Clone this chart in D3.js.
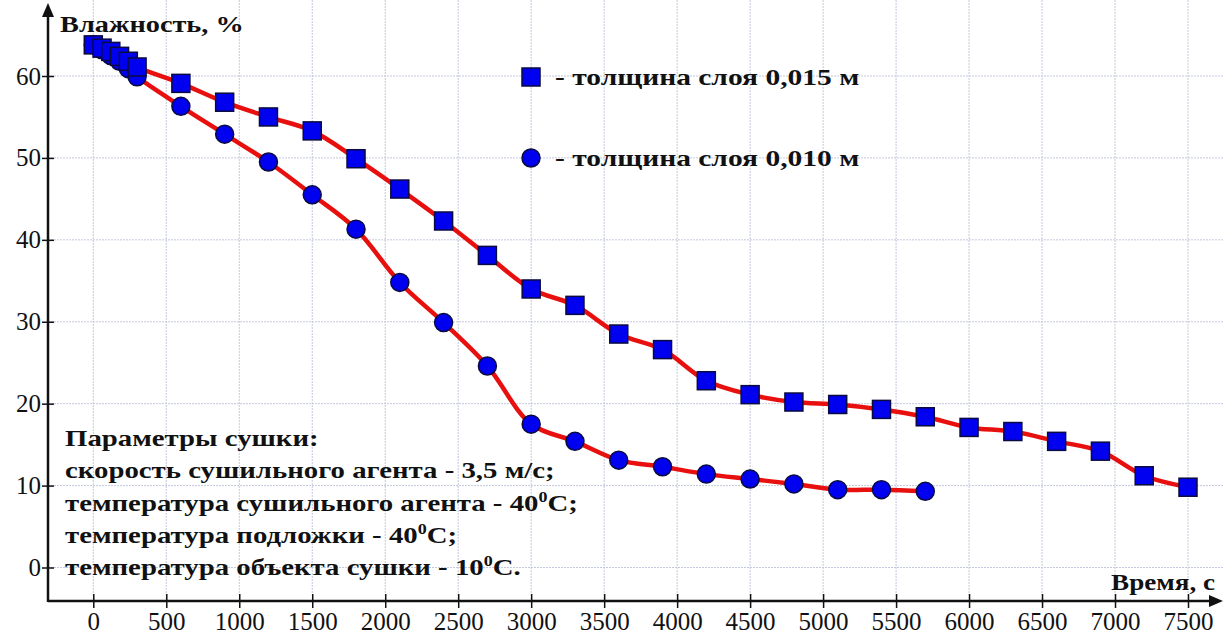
<!DOCTYPE html>
<html>
<head>
<meta charset="utf-8">
<script src="https://cdn.jsdelivr.net/npm/d3@7"></script>
<style>
  body { margin: 0; background: #fff; }
  svg { display: block; }
  .tick text { font-family: "Liberation Serif", "DejaVu Serif", serif; font-size: 25px; fill: #111; }
  .label { font-family: "Liberation Serif", "DejaVu Serif", serif; font-weight: bold; font-size: 24px; fill: #111; }
  .grid line { stroke: #c3c8dc; stroke-width: 1; stroke-dasharray: 2,1; }
</style>
</head>
<body>
<div class="graph-container"></div>
<script>
// Time, s
const timeThick = [0, 60, 120, 180, 240, 300, 600, 900, 1200, 1500, 1800, 2100, 2400, 2700,
                   3000, 3300, 3600, 3900, 4200, 4500, 4800, 5100, 5400, 5700, 6000, 6300,
                   6600, 6900, 7200, 7500];
// Moisture, % - layer 0,015 m
const moistThick = [63.8, 63.4, 63.0, 62.4, 61.8, 61.1, 59.1, 56.8, 55.0, 53.3, 49.9, 46.2,
                    42.3, 38.1, 34.0, 32.0, 28.5, 26.6, 22.8, 21.1, 20.2, 19.9, 19.3, 18.4,
                    17.1, 16.6, 15.4, 14.2, 11.2, 9.8];

const timeThin = [0, 60, 120, 180, 240, 300, 600, 900, 1200, 1500, 1800, 2100, 2400, 2700,
                  3000, 3300, 3600, 3900, 4200, 4500, 4800, 5100, 5400, 5700];
// Moisture, % - layer 0,010 m
const moistThin = [63.8, 63.2, 62.5, 61.8, 60.9, 59.9, 56.3, 52.9, 49.5, 45.5, 41.3, 34.8,
                   29.9, 24.6, 17.5, 15.4, 13.1, 12.3, 11.4, 10.8, 10.2, 9.5, 9.5, 9.3];

const xTicks = d3.range(0, 7501, 500);
const yTicks = [0, 10, 20, 30, 40, 50, 60];

const legendLabels = ['- толщина слоя 0,015 м', '- толщина слоя 0,010 м'];
const noteLines = [
  ['Параметры сушки:'],
  ['скорость сушильного агента - 3,5 м/с;'],
  ['температура сушильного агента - 40', '0', 'C;'],
  ['температура подложки - 40', '0', 'C;'],
  ['температура объекта сушки - 10', '0', 'C.']
];

const width = 1223, height = 634;
const axisX = 48, axisY = 601;

const svg = d3.select('.graph-container')
              .append('svg')
              .attr('width', width)
              .attr('height', height);

const x = d3.scaleLinear()
            .domain([0, 7500])
            .range([93.3, 1188]);
const y = d3.scaleLinear()
            .domain([0, 60])
            .range([567.5, 76]);

// The source picture is stretched sideways, so bold labels get a wider scale
function label(parent, px, py, sx, anchor) {
  return parent.append('text')
               .attr('class', 'label')
               .attr('text-anchor', anchor || 'start')
               .attr('transform', `translate(${px},${py}) scale(${sx},1)`);
}

// Grid
const grid = svg.append('g').attr('class', 'grid');
grid.selectAll('.vg')
    .data(xTicks)
    .join('line')
    .attr('x1', d => x(d)).attr('x2', d => x(d))
    .attr('y1', 0).attr('y2', axisY);
grid.selectAll('.hg')
    .data(yTicks)
    .join('line')
    .attr('x1', axisX).attr('x2', width)
    .attr('y1', d => y(d)).attr('y2', d => y(d));

// Axes
const xAxis = svg.append('g')
                 .attr('transform', `translate(0,${axisY})`)
                 .call(d3.axisBottom(x).tickValues(xTicks).tickFormat(d3.format('d'))
                         .tickSize(7).tickPadding(4));
xAxis.select('.domain').remove();
xAxis.selectAll('.tick line').attr('y1', -7).attr('y2', 7)
     .attr('stroke', '#111').attr('stroke-width', 1.5);

const yAxis = svg.append('g')
                 .attr('transform', `translate(${axisX},0)`)
                 .call(d3.axisLeft(y).tickValues(yTicks).tickSize(6).tickPadding(1));
yAxis.select('.domain').remove();
yAxis.selectAll('.tick line').attr('x1', -6).attr('x2', 6)
     .attr('stroke', '#111').attr('stroke-width', 1.5);

// Remove d3's inline font so the stylesheet font is used
svg.selectAll('g[font-family]').attr('font-family', null).attr('font-size', null);

svg.append('line')
   .attr('x1', axisX).attr('y1', axisY)
   .attr('x2', width - 8).attr('y2', axisY)
   .attr('stroke', '#111').attr('stroke-width', 2.5);
svg.append('path')
   .attr('d', `M${width},${axisY} L${width - 14},${axisY - 6} L${width - 14},${axisY + 6} Z`)
   .attr('fill', '#111');
svg.append('line')
   .attr('x1', axisX).attr('y1', axisY + 1)
   .attr('x2', axisX).attr('y2', 12)
   .attr('stroke', '#111').attr('stroke-width', 2.5);
svg.append('path')
   .attr('d', `M${axisX},3 L${axisX - 6},17 L${axisX + 6},17 Z`)
   .attr('fill', '#111');

label(svg, 60, 32, 1.18).text('Влажность, %');
label(svg, 1215, 590, 1.13, 'end').text('Время, с');

// Curves
const line = d3.line()
               .x(d => x(d[0]))
               .y(d => y(d[1]))
               .curve(d3.curveCatmullRom.alpha(0.5));

const thin = timeThin.map((t, i) => [t, moistThin[i]]);
const thick = timeThick.map((t, i) => [t, moistThick[i]]);

[thin, thick].forEach(data => {
  svg.append('path')
     .datum(data)
     .attr('fill', 'none')
     .attr('stroke', '#e8100e')
     .attr('stroke-width', 4.5)
     .attr('d', line);
});

const markSize = 18;

svg.append('g')
   .selectAll('circle')
   .data(thin)
   .join('circle')
   .attr('cx', d => x(d[0]))
   .attr('cy', d => y(d[1]))
   .attr('r', markSize / 2)
   .attr('fill', '#0000f0')
   .attr('stroke', '#0a0a40')
   .attr('stroke-width', 1.5);

svg.append('g')
   .selectAll('rect')
   .data(thick)
   .join('rect')
   .attr('x', d => x(d[0]) - markSize / 2)
   .attr('y', d => y(d[1]) - markSize / 2)
   .attr('width', markSize)
   .attr('height', markSize)
   .attr('fill', '#0000f0')
   .attr('stroke', '#0a0a40')
   .attr('stroke-width', 1.5);

// Legend
const legend = svg.append('g');
legend.append('rect')
      .attr('x', 531 - markSize / 2).attr('y', 77 - markSize / 2)
      .attr('width', markSize).attr('height', markSize)
      .attr('fill', '#0000f0').attr('stroke', '#0a0a40').attr('stroke-width', 1.5);
legend.append('circle')
      .attr('cx', 531).attr('cy', 158).attr('r', markSize / 2)
      .attr('fill', '#0000f0').attr('stroke', '#0a0a40').attr('stroke-width', 1.5);
legendLabels.forEach((d, i) => {
  label(legend, 555, 85 + i * 81, 1.23).text(d);
});

// Drying parameters note
const note = svg.append('g');
noteLines.forEach((parts, i) => {
  let t = label(note, 65, 446 + i * 32.3, 1.2);
  t.append('tspan').text(parts[0]);
  if (parts.length > 1) {
    t.append('tspan').attr('dy', -9).style('font-size', '15px').text(parts[1]);
    t.append('tspan').attr('dy', 9).text(parts[2]);
  }
});
</script>
</body>
</html>
